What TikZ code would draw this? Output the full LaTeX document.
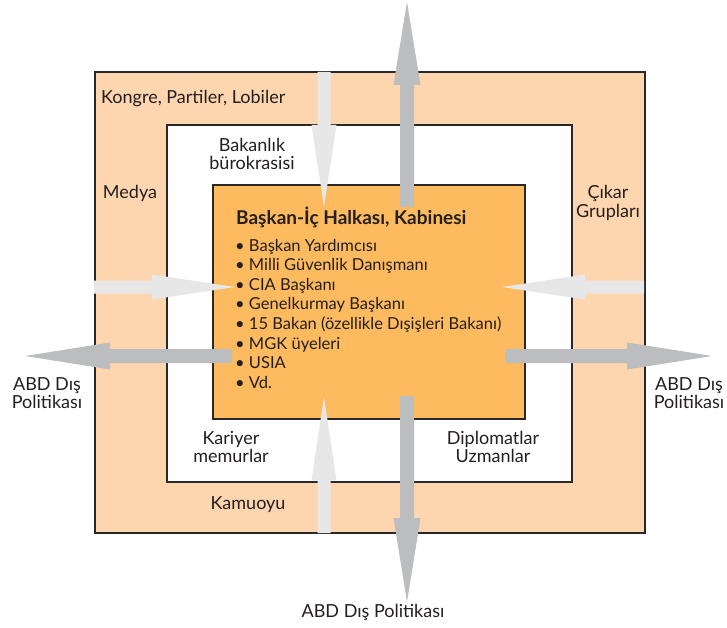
\documentclass[tikz,border=0pt]{standalone}
\usepackage{fontspec}
\setmainfont{Lato}

\definecolor{outerfill}{RGB}{253,213,175}
\definecolor{innerfill}{RGB}{253,186,94}
\definecolor{inflowgray}{RGB}{231,231,231}
\definecolor{outflowgray}{RGB}{188,189,191}
\definecolor{boxline}{RGB}{40,40,40}
\definecolor{textcol}{RGB}{35,31,32}

% broad arrows: colour, axis, start, head base, tip, half shaft, half head
\newcommand{\vflow}[7]{\fill[#1] (#2-#6,#3) -- (#2+#6,#3) -- (#2+#6,#4) -- (#2+#7,#4) -- (#2,#5) -- (#2-#7,#4) -- (#2-#6,#4) -- cycle;}
\newcommand{\hflow}[7]{\fill[#1] (#3,#2-#6) -- (#3,#2+#6) -- (#4,#2+#6) -- (#4,#2+#7) -- (#5,#2) -- (#4,#2-#7) -- (#4,#2-#6) -- cycle;}

\begin{document}
\begin{tikzpicture}[x=1pt,y=-1pt,
  box/.style={draw=boxline,line width=1.8pt},
  textlabel/.style={font=\fontsize{18}{18.5}\selectfont,text=textcol,align=center,inner sep=0pt},
  listitem/.style={font=\fontsize{16.5}{19}\selectfont,text=textcol,inner sep=0pt,anchor=base west}]

    \useasboundingbox (0,0) rectangle (727,628);

    % the three circles
    \draw[box,fill=outerfill] (95,72) rectangle (645,533);
    \draw[box,fill=white] (167,125) rectangle (572,482);
    \draw[box,fill=innerfill] (213,185) rectangle (525,419);

    % influences going in
    \vflow{inflowgray}{324}{72}{125}{207}{6.5}{12.5}
    \vflow{inflowgray}{324}{533}{480}{397}{6.5}{12.5}
    \hflow{inflowgray}{287}{94}{152}{235}{6.5}{12.5}
    \hflow{inflowgray}{287}{644}{585}{502}{6.5}{12.5}

    % policy coming out
    \vflow{outflowgray}{407}{207}{85}{2}{7}{13.5}
    \vflow{outflowgray}{407}{396}{518}{602}{7}{13.5}
    \hflow{outflowgray}{356}{232}{110}{25}{7}{13.5}
    \hflow{outflowgray}{356}{505}{627}{712}{7}{13.5}

    \node[textlabel,anchor=west] (kongre) at (101,99) {Kongre, Partiler, Lobiler};
    \node[textlabel] (bakanlik) at (252,154) {Bakanlık\\bürokrasisi};
    \node[textlabel] (medya) at (130,193) {Medya};
    \node[textlabel] (cikar) at (608,203) {Çıkar\\Grupları};
    \node[textlabel] (kariyer) at (231,447) {Kariyer\\memurlar};
    \node[textlabel] (diplomat) at (493,447) {Diplomatlar\\Uzmanlar};
    \node[textlabel] (kamuoyu) at (248,505) {Kamuoyu};
    \node[textlabel] (abdleft) at (47,393) {ABD Dış\\Politikası};
    \node[textlabel] (abdright) at (689,393) {ABD Dış\\Politikası};
    \node[textlabel] (abdbottom) at (373,612) {ABD Dış Politikası};

    \node[textlabel,font=\fontsize{19}{19}\selectfont\bfseries,anchor=base west] (kabine) at (236,224) {Başkan-İç Halkası, Kabinesi};
    \foreach \txt [count=\i from 0] in {Başkan Yardımcısı, Milli Güvenlik Danışmanı, CIA Başkanı, Genelkurmay Başkanı, 15 Bakan (özellikle Dışişleri Bakanı), MGK üyeleri, USIA, Vd.}
        \node[listitem] (item\i) at (235,251+19.6*\i) {• \txt};
\end{tikzpicture}
\end{document}
